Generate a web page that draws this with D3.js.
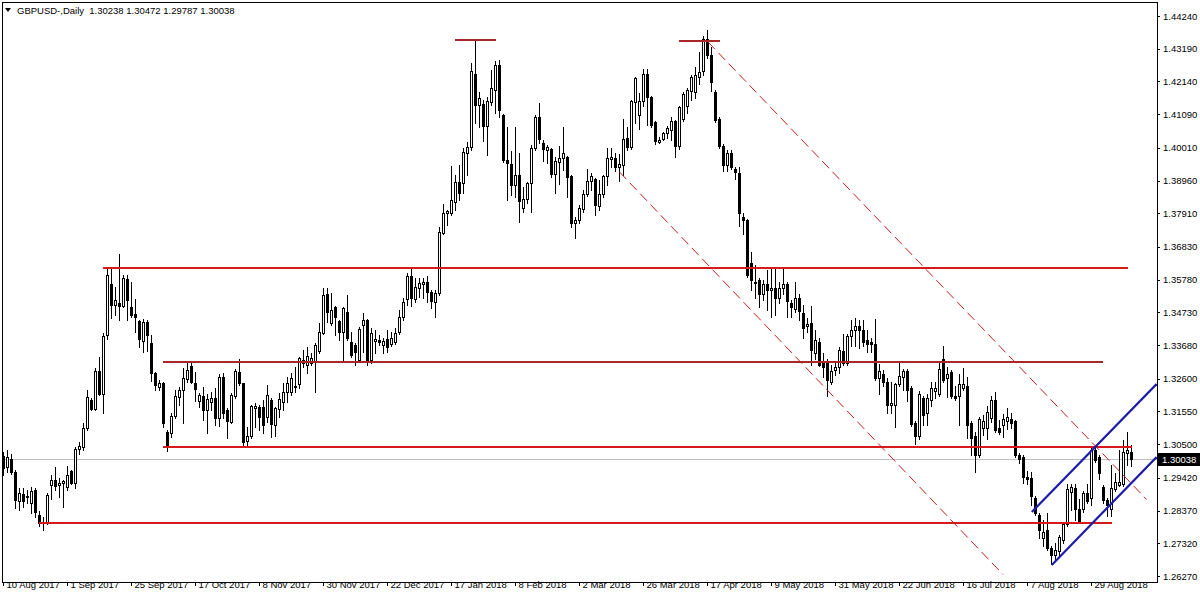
<!DOCTYPE html>
<html><head><meta charset="utf-8">
<script src="https://cdn.jsdelivr.net/npm/d3@7"></script>
<style>
body{margin:0;background:#fff}
svg{display:block}
text{font-family:"Liberation Sans",Arial,sans-serif;font-size:9.5px;fill:#000}
</style>
</head><body>
<svg id="chart" width="1200" height="600"></svg>
<script>
// ---- data ----
const symbolTitle = "GBPUSD-,Daily";
const lastOHLC = [1.30238, 1.30472, 1.29787, 1.30038];

const opens = [1.3012,1.2977,1.3003,1.2961,1.2868,1.2890,1.2881,1.2861,1.2903,1.2823,1.2800,1.2797,1.2919,1.2935,1.2919,1.2925,1.2913,1.2964,1.2925,1.3035,
1.3041,1.3102,1.3192,1.3163,1.3285,1.3211,1.3400,1.3564,1.3497,1.3503,1.3494,1.3580,1.3490,1.3468,1.3445,1.3381,1.3442,1.3375,1.3279,1.3234,
1.3246,1.3089,1.3086,1.3140,1.3201,1.3224,1.3259,1.3301,1.3246,1.3189,1.3205,1.3160,1.3186,1.3198,1.3134,1.3266,1.3160,1.3121,1.3205,1.3282,
1.3246,1.3060,1.3076,1.3166,1.3170,1.3170,1.3137,1.3192,1.3112,1.3163,1.3186,1.3218,1.3218,1.3234,1.3243,1.3310,1.3304,1.3310,1.3317,1.3349,
1.3407,1.3532,1.3439,1.3490,1.3445,1.3410,1.3474,1.3378,1.3368,1.3320,1.3433,1.3449,1.3320,1.3381,1.3384,1.3368,1.3388,1.3372,1.3378,1.3410,
1.3458,1.3516,1.3590,1.3516,1.3551,1.3564,1.3571,1.3538,1.3506,1.3535,1.3728,1.3792,1.3792,1.3827,1.3891,1.3888,1.3984,1.4004,1.4238,1.4138,
1.4142,1.4071,1.4148,1.4187,1.4267,1.4106,1.3962,1.3949,1.3882,1.3914,1.3808,1.3837,1.3888,1.4001,1.4100,1.4017,1.3994,1.3997,1.3917,1.3956,
1.3968,1.3971,1.3911,1.3760,1.3769,1.3805,1.3853,1.3895,1.3901,1.3814,1.3853,1.3911,1.3965,1.3968,1.3939,1.3946,1.4033,1.4004,1.4148,1.4106,
1.4151,1.4238,1.4164,1.4084,1.4020,1.4029,1.4049,1.4058,1.4087,1.4007,1.4093,1.4135,1.4183,1.4180,1.4228,1.4248,1.4350,1.4299,1.4180,1.4093,
1.4007,1.3946,1.3984,1.3933,1.3920,1.3779,1.3769,1.3632,1.3571,1.3577,1.3532,1.3564,1.3545,1.3551,1.3519,1.3551,1.3564,1.3503,1.3484,1.3519,
1.3471,1.3429,1.3439,1.3343,1.3378,1.3310,1.3317,1.3250,1.3288,1.3298,1.3349,1.3310,1.3397,1.3416,1.3429,1.3416,1.3384,1.3378,1.3372,1.3262,
1.3275,1.3250,1.3176,1.3176,1.3243,1.3266,1.3285,1.3230,1.3118,1.3076,1.3198,1.3150,1.3192,1.3221,1.3211,1.3323,1.3262,1.3282,1.3205,1.3205,
1.3230,1.3237,1.3118,1.3076,1.3015,1.3102,1.3102,1.3134,1.3192,1.3102,1.3112,1.3124,1.3131,1.3124,1.3015,1.3009,1.2945,1.2941,1.2877,1.2823,
1.2749,1.2775,1.2717,1.2694,1.2707,1.2742,1.2794,1.2897,1.2909,1.2842,1.2842,1.2893,1.2877,1.3031,1.3009,1.2913,1.2871,1.2842,1.2906,1.2919,
1.2922,1.3022,1.30238];

const highs = [1.3025,1.3031,1.3019,1.2967,1.2909,1.2909,1.2903,1.2913,1.2909,1.2836,1.2816,1.2893,1.2951,1.2977,1.2942,1.2935,1.2980,1.2967,1.3041,1.3057,
1.3118,1.3224,1.3198,1.3295,1.3330,1.3407,1.3615,1.3612,1.3554,1.3660,1.3593,1.3593,1.3571,1.3516,1.3449,1.3452,1.3449,1.3400,1.3282,1.3256,
1.3250,1.3096,1.3150,1.3224,1.3234,1.3295,1.3310,1.3310,1.3282,1.3214,1.3234,1.3211,1.3218,1.3230,1.3275,1.3279,1.3166,1.3214,1.3291,1.3323,
1.3246,1.3105,1.3176,1.3182,1.3176,1.3192,1.3240,1.3198,1.3170,1.3214,1.3246,1.3266,1.3279,1.3298,1.3330,1.3352,1.3362,1.3343,1.3375,1.3439,
1.3551,1.3551,1.3535,1.3494,1.3449,1.3490,1.3529,1.3410,1.3375,1.3426,1.3471,1.3452,1.3423,1.3416,1.3400,1.3391,1.3416,1.3410,1.3423,1.3481,
1.3519,1.3599,1.3612,1.3583,1.3583,1.3583,1.3590,1.3545,1.3545,1.3747,1.3821,1.3802,1.3943,1.3914,1.3946,1.4001,1.4020,1.4273,1.4347,1.4180,
1.4155,1.4164,1.4251,1.4280,1.4283,1.4110,1.4068,1.3991,1.4068,1.3984,1.3875,1.3891,1.4010,1.4106,1.4145,1.4026,1.4010,1.4001,1.3971,1.4007,
1.4068,1.3975,1.3914,1.3779,1.3818,1.3866,1.3933,1.3920,1.3904,1.3898,1.3914,1.4001,1.4001,1.3984,1.3981,1.4094,1.4068,1.4155,1.4228,1.4177,
1.4254,1.4254,1.4167,1.4087,1.4036,1.4052,1.4071,1.4100,1.4090,1.4135,1.4180,1.4193,1.4235,1.4260,1.4308,1.4360,1.4380,1.4325,1.4187,1.4100,
1.4013,1.3994,1.3994,1.3939,1.3939,1.3792,1.3773,1.3667,1.3625,1.3583,1.3577,1.3609,1.3619,1.3615,1.3571,1.3615,1.3571,1.3513,1.3571,1.3532,
1.3497,1.3455,1.3494,1.3416,1.3391,1.3343,1.3323,1.3304,1.3317,1.3362,1.3404,1.3404,1.3449,1.3455,1.3449,1.3449,1.3416,1.3391,1.3452,1.3307,
1.3288,1.3262,1.3250,1.3246,1.3317,1.3291,1.3291,1.3237,1.3124,1.3221,1.3205,1.3211,1.3250,1.3250,1.3310,1.3365,1.3298,1.3288,1.3237,1.3275,
1.3295,1.3266,1.3124,1.3089,1.3137,1.3144,1.3173,1.3205,1.3218,1.3128,1.3147,1.3166,1.3150,1.3127,1.3022,1.3015,1.2964,1.2961,1.2884,1.2829,
1.2807,1.2829,1.2723,1.2733,1.2759,1.2800,1.2922,1.2922,1.2922,1.2874,1.2900,1.2922,1.3044,1.3038,1.3015,1.2919,1.2877,1.2983,1.2958,1.3031,
1.3063,1.3089,1.30472];

const lows = [1.2951,1.2961,1.2954,1.2845,1.2839,1.2848,1.2861,1.2829,1.2816,1.2787,1.2775,1.2794,1.2874,1.2903,1.2881,1.2848,1.2903,1.2922,1.2909,1.3019,
1.3031,1.3096,1.3160,1.3160,1.3208,1.3150,1.3388,1.3455,1.3465,1.3449,1.3490,1.3449,1.3458,1.3410,1.3362,1.3346,1.3349,1.3253,1.3224,1.3224,
1.3105,1.3028,1.3073,1.3134,1.3176,1.3118,1.3250,1.3246,1.3189,1.3170,1.3128,1.3086,1.3160,1.3112,1.3108,1.3134,1.3070,1.3118,1.3198,1.3240,
1.3044,1.3047,1.3070,1.3105,1.3096,1.3086,1.3121,1.3073,1.3076,1.3137,1.3160,1.3186,1.3208,1.3218,1.3230,1.3298,1.3279,1.3304,1.3218,1.3343,
1.3405,1.3442,1.3433,1.3400,1.3384,1.3314,1.3384,1.3330,1.3304,1.3317,1.3346,1.3304,1.3310,1.3343,1.3368,1.3343,1.3346,1.3365,1.3372,1.3404,
1.3449,1.3497,1.3494,1.3506,1.3522,1.3519,1.3506,1.3487,1.3458,1.3529,1.3725,1.3753,1.3786,1.3802,1.3834,1.3856,1.3914,1.3994,1.4081,1.4068,
1.4023,1.3978,1.4138,1.4113,1.4100,1.3956,1.3834,1.3850,1.3843,1.3763,1.3795,1.3824,1.3795,1.3994,1.4017,1.3959,1.3952,1.3907,1.3856,1.3885,
1.3930,1.3843,1.3747,1.3712,1.3760,1.3795,1.3846,1.3866,1.3786,1.3802,1.3843,1.3882,1.3939,1.3927,1.3895,1.3914,1.3994,1.3997,1.4081,1.4061,
1.4135,1.4074,1.4068,1.4013,1.4017,1.4026,1.4033,1.4026,1.3971,1.3997,1.4087,1.4113,1.4155,1.4161,1.4206,1.4235,1.4289,1.4183,1.4084,1.4001,
1.3927,1.3927,1.3933,1.3901,1.3750,1.3725,1.3587,1.3545,1.3519,1.3490,1.3513,1.3481,1.3458,1.3465,1.3503,1.3532,1.3458,1.3458,1.3474,1.3449,
1.3391,1.3410,1.3304,1.3323,1.3301,1.3266,1.3205,1.3243,1.3272,1.3279,1.3304,1.3304,1.3365,1.3365,1.3359,1.3365,1.3346,1.3346,1.3256,1.3211,
1.3237,1.3150,1.3150,1.3105,1.3237,1.3224,1.3189,1.3108,1.3051,1.3067,1.3112,1.3112,1.3173,1.3198,1.3205,1.3250,1.3201,1.3198,1.3192,1.3112,
1.3224,1.3070,1.3015,1.2961,1.3009,1.3080,1.3067,1.3121,1.3089,1.3083,1.3073,1.3099,1.3102,1.3009,1.2990,1.2925,1.2922,1.2855,1.2823,1.2749,
1.2723,1.2710,1.2666,1.2682,1.2694,1.2733,1.2787,1.2839,1.2807,1.2800,1.2832,1.2861,1.2855,1.2993,1.2938,1.2861,1.2820,1.2820,1.2900,1.2916,
1.2916,1.2983,1.29787];

const closes = [1.2974,1.3009,1.2961,1.2871,1.2893,1.2868,1.2884,1.2900,1.2832,1.2797,1.2797,1.2887,1.2935,1.2916,1.2925,1.2932,1.2951,1.2925,1.3035,1.3044,
1.3102,1.3201,1.3163,1.3285,1.3211,1.3397,1.3593,1.3497,1.3513,1.3494,1.3583,1.3513,1.3465,1.3458,1.3388,1.3442,1.3400,1.3279,1.3240,1.3246,
1.3118,1.3044,1.3140,1.3205,1.3224,1.3262,1.3288,1.3250,1.3227,1.3208,1.3160,1.3195,1.3198,1.3134,1.3266,1.3150,1.3124,1.3208,1.3285,1.3246,
1.3057,1.3076,1.3173,1.3173,1.3137,1.3112,1.3208,1.3115,1.3166,1.3195,1.3218,1.3246,1.3262,1.3237,1.3327,1.3320,1.3333,1.3327,1.3368,1.3410,
1.3529,1.3474,1.3481,1.3458,1.3410,1.3487,1.3391,1.3336,1.3346,1.3420,1.3449,1.3320,1.3407,1.3388,1.3378,1.3381,1.3362,1.3391,1.3407,1.3458,
1.3506,1.3590,1.3519,1.3554,1.3567,1.3571,1.3538,1.3510,1.3535,1.3731,1.3792,1.3798,1.3834,1.3891,1.3856,1.3988,1.4004,1.4248,1.4138,1.4161,
1.4071,1.4151,1.4193,1.4267,1.4122,1.3962,1.3952,1.3882,1.3914,1.3830,1.3837,1.3888,1.4001,1.4100,1.4029,1.3997,1.4004,1.3917,1.3959,1.3968,
1.3984,1.3907,1.3760,1.3769,1.3808,1.3853,1.3895,1.3911,1.3818,1.3853,1.3912,1.3968,1.3971,1.3939,1.3949,1.4029,1.4004,1.4151,1.4225,1.4151,
1.4238,1.4164,1.4074,1.4023,1.4026,1.4049,1.4065,1.4087,1.4007,1.4132,1.4174,1.4187,1.4228,1.4235,1.4244,1.4350,1.4299,1.4212,1.4090,1.4007,
1.3946,1.3984,1.3939,1.3923,1.3792,1.3769,1.3593,1.3577,1.3568,1.3532,1.3564,1.3545,1.3551,1.3519,1.3551,1.3564,1.3510,1.3490,1.3519,1.3478,
1.3423,1.3436,1.3352,1.3384,1.3304,1.3298,1.3256,1.3285,1.3298,1.3352,1.3310,1.3397,1.3416,1.3429,1.3416,1.3378,1.3372,1.3372,1.3262,1.3285,
1.3250,1.3176,1.3182,1.3243,1.3269,1.3285,1.3224,1.3115,1.3076,1.3211,1.3144,1.3198,1.3230,1.3230,1.3291,1.3256,1.3275,1.3205,1.3198,1.3243,
1.3243,1.3112,1.3070,1.3015,1.3131,1.3124,1.3153,1.3192,1.3096,1.3089,1.3131,1.3137,1.3118,1.3015,1.3003,1.2945,1.2938,1.2884,1.2829,1.2775,
1.2768,1.2717,1.2694,1.2710,1.2752,1.2794,1.2906,1.2913,1.2842,1.2803,1.2893,1.2868,1.3031,1.2999,1.2958,1.2871,1.2855,1.2909,1.2929,1.2929,
1.3025,1.3031,1.30038];

const priceTicks = [1.44240,1.43190,1.42140,1.41090,1.40010,1.38960,1.37910,1.36830,1.35780,1.34730,1.33680,1.32600,1.31550,1.30500,1.29420,1.28370,1.27320,1.26270];
const dateTickBars = [0,16,32,48,64,80,96,112,128,144,160,176,192,208,224,240,256,272];
const dateTickLabels = ["10 Aug 2017","1 Sep 2017","25 Sep 2017","17 Oct 2017","8 Nov 2017","30 Nov 2017","22 Dec 2017","17 Jan 2018","8 Feb 2018","2 Mar 2018","26 Mar 2018","17 Apr 2018","9 May 2018","31 May 2018","22 Jun 2018","16 Jul 2018","7 Aug 2018","29 Aug 2018"];

// horizontal levels: price, first bar, last bar
const levelPrices = [1.3615, 1.3315, 1.3042, 1.2798, 1.4347, 1.4344];
const levelFromBar = [25, 40, 40, 9, 113, 169];
const levelToBar   = [281.2, 275, 282.2, 277.2, 123.2, 179.25];
// trend lines: [bar1, price1, bar2, price2]
const dashedChannel = [[176.25,1.43406,285.9,1.28725],[154.1,1.39237,250,1.26318]];
const blueChannel   = [[257.2,1.28324,288.4,1.32432],[262.2,1.26623,288.4,1.30089]];

// ---- drawing ----
const W = 1200, H = 600;
const plot = {left:2, top:2, right:1157, bottom:582};
const svg = d3.select("#chart");

const x = d3.scaleLinear().domain([0, opens.length - 1]).range([3, 3 + 4 * (opens.length - 1)]);
const y = d3.scaleLinear().domain([1.26270, 1.44240]).range([576, 16]);

svg.append("rect").attr("width", W).attr("height", H).attr("fill", "#fff");

svg.append("defs").append("clipPath").attr("id", "plotclip")
  .append("rect").attr("x", plot.left + 1).attr("y", plot.top + 1)
  .attr("width", plot.right - plot.left - 1).attr("height", plot.bottom - plot.top - 1);

const gPlot = svg.append("g").attr("clip-path", "url(#plotclip)");

// bid line
const bid = lastOHLC[3];
gPlot.append("line")
  .attr("x1", plot.left).attr("x2", plot.right)
  .attr("y1", Math.round(y(bid)) + 0.5).attr("y2", Math.round(y(bid)) + 0.5)
  .attr("stroke", "#c0c0c0").attr("stroke-width", 1);

// candles
const idx = d3.range(opens.length);
const gC = gPlot.append("g").attr("shape-rendering", "crispEdges");
idx.forEach(i => {
  const cx = Math.round(x(i));
  const yh = Math.round(y(highs[i])), yl = Math.round(y(lows[i]));
  const yo = Math.round(y(opens[i])), yc = Math.round(y(closes[i]));
  const top = Math.min(yo, yc), bot = Math.max(yo, yc);
  gC.append("rect").attr("x", cx).attr("y", Math.min(yh, top)).attr("width", 1)
    .attr("height", Math.max(yl, bot) - Math.min(yh, top) + 1).attr("fill", "#000");
  gC.append("rect").attr("x", cx - 1).attr("y", top).attr("width", 3)
    .attr("height", bot - top + 1).attr("fill", "#000");
  if (closes[i] > opens[i] && bot - top >= 2) {
    gC.append("rect").attr("x", cx).attr("y", top + 1).attr("width", 1)
      .attr("height", bot - top - 1).attr("fill", "#fff");
  }
});

// horizontal levels
const levelColors = ["#d61a1a", "#a8282a", "#d61a1a", "#d61a1a", "#a8282a", "#a8282a"];
levelPrices.forEach((p, k) => {
  const yy = Math.round(y(p));
  gPlot.append("line")
    .attr("x1", x(levelFromBar[k])).attr("x2", x(levelToBar[k]))
    .attr("y1", yy).attr("y2", yy)
    .attr("stroke", levelColors[k]).attr("stroke-width", 2)
    .attr("shape-rendering", "crispEdges");
});

// dashed channel
dashedChannel.forEach(l => {
  gPlot.append("line")
    .attr("x1", x(l[0])).attr("y1", y(l[1])).attr("x2", x(l[2])).attr("y2", y(l[3]))
    .attr("stroke", "#c41e1e").attr("stroke-width", 1).attr("stroke-dasharray", "10,5");
});

// blue channel
blueChannel.forEach(l => {
  gPlot.append("line")
    .attr("x1", x(l[0])).attr("y1", y(l[1])).attr("x2", x(l[2])).attr("y2", y(l[3]))
    .attr("stroke", "#1c1ca8").attr("stroke-width", 2.2);
});

// frame
svg.append("rect")
  .attr("x", plot.left + 0.5).attr("y", plot.top + 0.5)
  .attr("width", plot.right - plot.left).attr("height", plot.bottom - plot.top)
  .attr("fill", "none").attr("stroke", "#000").attr("shape-rendering", "crispEdges");

// price axis
const yAxis = d3.axisRight(y).tickValues(priceTicks).tickFormat(d3.format(".5f"))
  .tickSize(3).tickSizeOuter(0).tickPadding(3);
const gy = svg.append("g").attr("transform", `translate(${plot.right},0)`).call(yAxis);
gy.select(".domain").remove();
gy.selectAll("line").attr("stroke", "#000").attr("shape-rendering", "crispEdges");
gy.selectAll("text").attr("font-family", "Liberation Sans, Arial, sans-serif").attr("font-size", 9.5).attr("fill", "#000");

// time axis
const xAxis = d3.axisBottom(x).tickValues(dateTickBars).tickFormat((d, i) => dateTickLabels[i])
  .tickSize(4).tickSizeOuter(0).tickPadding(0);
const gx = svg.append("g").attr("transform", `translate(0,${plot.bottom})`).call(xAxis);
gx.select(".domain").remove();
gx.selectAll("line").attr("stroke", "#000").attr("shape-rendering", "crispEdges");
gx.selectAll("text").attr("text-anchor", "start").attr("dx", 3).attr("dy", "0.2em").attr("y", 4)
  .attr("font-family", "Liberation Sans, Arial, sans-serif").attr("font-size", 9.5).attr("fill", "#000");

// bid label box
const by = Math.round(y(bid));
svg.append("rect").attr("x", plot.right + 1).attr("y", by - 6).attr("width", W - plot.right - 1).attr("height", 13)
  .attr("fill", "#000").attr("shape-rendering", "crispEdges");
svg.append("text").attr("x", plot.right + 5).attr("y", by + 0.5).attr("dy", "0.35em")
  .style("fill", "#fff").text(d3.format(".5f")(bid));

// title
svg.append("path").attr("d", "M5,8 L11,8 L8,12 Z").attr("fill", "#000");
svg.append("text").attr("x", 17).attr("y", 14).style("white-space", "pre")
  .text(symbolTitle + "  " + lastOHLC.map(d3.format(".5f")).join(" "));
</script>
</body></html>
